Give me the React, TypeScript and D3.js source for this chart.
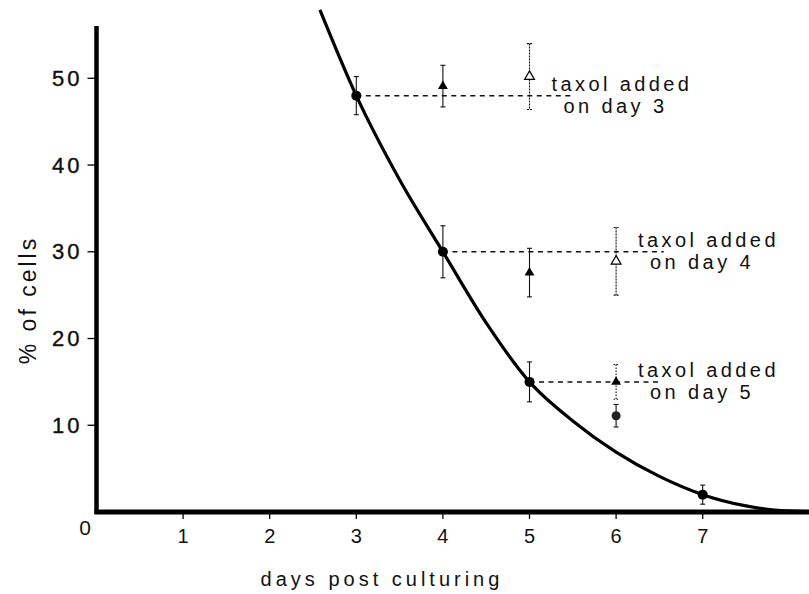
import React from "react";
import * as d3 from "d3";

// Control (no taxol) data
const controlDays = [3, 4, 5, 7];
const controlPct = [48, 30, 15, 2];
const controlErr = [2.2, 3.0, 2.3, 1.1];

// Fitted curve
const curveDays = [2.58, 3.0, 3.5, 4.0, 4.5, 5.0, 5.5, 6.0, 6.5, 7.0, 7.5, 7.9, 8.4];
const curvePct = [57.9, 48, 38.3, 30, 21.8, 15, 10.5, 6.9, 4.1, 2.0, 0.7, 0.15, 0];

// Taxol groups: added day, first (filled triangle) and second (open triangle) points
const groupAddedDay = [3, 4, 5];
const groupBasePct = [48, 30, 15];
const filledTriDays = [4, 5, 6];
const filledTriPct = [49.1, 27.6, 15];
const filledTriErr = [2.4, 2.8, 2.0];
const openTriDays = [5, 6];
const openTriPct = [50.2, 28.9];
const openTriErr = [3.8, 3.9];
const extraCircleDays = [6];
const extraCirclePct = [11.1];
const extraCircleErr = [1.3];
const dashEndDays = [5.5, 6.55, 6.5];

const xTicks = [1, 2, 3, 4, 5, 6, 7];
const yTicks = [10, 20, 30, 40, 50];

const W = 809;
const H = 594;

export default function App() {
  const x = d3.scaleLinear().domain([0, 7]).range([96.5, 702.7]);
  const y = d3.scaleLinear().domain([0, 50]).range([512, 78.3]);
  const x0 = x(0);
  const y0 = y(0);

  const line = d3
    .line<number>()
    .x((_, i) => x(curveDays[i]))
    .y((d) => y(d))
    .curve(d3.curveMonotoneX);

  const tri = d3.symbol().type(d3.symbolTriangle).size(42)();

  const font = "'Liberation Sans', Arial, Helvetica, sans-serif";

  const errBar = (day: number, v: number, e: number, key: string, dash?: string) => (
    <g key={key} stroke="#111" strokeWidth={1.1} strokeDasharray={dash}>
      <line x1={x(day)} x2={x(day)} y1={y(v + e)} y2={y(v - e)} />
      <line x1={x(day) - 2.5} x2={x(day) + 2.5} y1={y(v + e)} y2={y(v + e)} strokeDasharray={undefined} />
      <line x1={x(day) - 2.5} x2={x(day) + 2.5} y1={y(v - e)} y2={y(v - e)} strokeDasharray={undefined} />
    </g>
  );

  return (
    <svg
      width={W}
      height={H}
      style={{ position: "absolute", left: 0, top: 0, background: "#fff" }}
      fontFamily={font}
    >
      <rect x={0} y={0} width={W} height={H} fill="#fff" />

      {/* dashed reference lines */}
      {groupAddedDay.map((d, i) => (
        <line
          key={"dash" + i}
          x1={x(d)}
          x2={x(dashEndDays[i])}
          y1={y(groupBasePct[i])}
          y2={y(groupBasePct[i])}
          stroke="#111"
          strokeWidth={1.5}
          strokeDasharray="5,4.5"
        />
      ))}

      {/* error bars */}
      {controlDays.map((d, i) => errBar(d, controlPct[i], controlErr[i], "ce" + i))}
      {filledTriDays.map((d, i) => errBar(d, filledTriPct[i], filledTriErr[i], "fe" + i, i === 2 ? "1.5,1.5" : undefined))}
      {openTriDays.map((d, i) => errBar(d, openTriPct[i], openTriErr[i], "oe" + i, "2,1"))}
      {extraCircleDays.map((d, i) => errBar(d, extraCirclePct[i], extraCircleErr[i], "xe" + i))}

      {/* fitted curve */}
      <path d={line(curvePct) || ""} fill="none" stroke="#000" strokeWidth={3.2} />

      {/* markers */}
      {controlDays.map((d, i) => (
        <circle key={"c" + i} cx={x(d)} cy={y(controlPct[i])} r={5} fill="#000" />
      ))}
      {extraCircleDays.map((d, i) => (
        <circle key={"xc" + i} cx={x(d)} cy={y(extraCirclePct[i])} r={4.5} fill="#222" />
      ))}
      {filledTriDays.map((d, i) => (
        <path key={"ft" + i} d={tri || ""} transform={`translate(${x(d)},${y(filledTriPct[i])})`} fill="#000" />
      ))}
      {openTriDays.map((d, i) => (
        <path
          key={"ot" + i}
          d={tri || ""}
          transform={`translate(${x(d)},${y(openTriPct[i])})`}
          fill="#fff"
          stroke="#000"
          strokeWidth={1.2}
        />
      ))}

      {/* annotations */}
      {groupAddedDay.map((d, i) => {
        const lastDay = i === 0 ? openTriDays[0] : i === 1 ? openTriDays[1] : filledTriDays[2];
        const tx = x(lastDay) + 22;
        const by = y(groupBasePct[i]);
        return (
          <g key={"t" + i} fontSize={20} fill="#111" letterSpacing={3.4}>
            <text x={tx} y={by - 5}>taxol added</text>
            <text x={tx + 12} y={by + 17}>{`on day ${d}`}</text>
          </g>
        );
      })}

      {/* axes */}
      <line x1={x0} x2={x0} y1={26} y2={y0 + 2} stroke="#000" strokeWidth={4.5} />
      <line x1={x0 - 2} x2={W} y1={y0} y2={y0} stroke="#000" strokeWidth={5} />

      {yTicks.map((t) => (
        <g key={"yt" + t}>
          <line x1={x0 - 9} x2={x0} y1={y(t)} y2={y(t)} stroke="#000" strokeWidth={1.3} />
          <text
            x={x0 - 14}
            y={y(t)}
            textAnchor="end"
            dominantBaseline="central"
            fontSize={22}
            letterSpacing={3}
            fill="#111"
            stroke="#111"
            strokeWidth={0.4}
          >
            {t}
          </text>
        </g>
      ))}
      {xTicks.map((t) => (
        <g key={"xt" + t}>
          <line x1={x(t)} x2={x(t)} y1={y0} y2={y0 + 7} stroke="#000" strokeWidth={1.3} />
          <text x={x(t)} y={543} textAnchor="middle" fontSize={20} fill="#111">
            {t}
          </text>
        </g>
      ))}
      <text x={85} y={535} textAnchor="middle" fontSize={21} fill="#111">
        0
      </text>

      <text x={382} y={586} textAnchor="middle" fontSize={20} letterSpacing={4} fill="#111">
        days post culturing
      </text>
      <text
        transform={`translate(36,300) rotate(-90)`}
        textAnchor="middle"
        fontSize={23}
        letterSpacing={3}
        fill="#111"
      >
        % of cells
      </text>
    </svg>
  );
}
